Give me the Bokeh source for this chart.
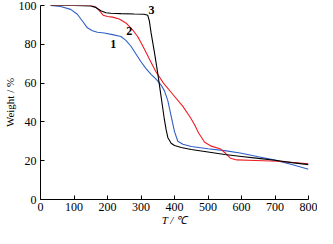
from bokeh.plotting import figure
from bokeh.models import Range1d
from bokeh.core.properties import value
from bokeh.embed import file_html
from bokeh.resources import INLINE

# Curve 1 (blue)
t1 = [30, 60, 90, 110, 125, 140, 155, 170, 190, 215, 240, 255, 270, 285, 300, 315, 330, 345, 360, 370, 380, 390, 400, 410, 425, 450, 500, 550, 600, 650, 700, 750, 800]
w1 = [100, 99.5, 98, 95.5, 92, 88.5, 87, 86.2, 85.8, 85, 84, 82, 79, 75, 71, 67.5, 64.5, 62, 59, 56, 51, 43, 35, 30, 28.5, 27.3, 26.2, 25.2, 23.8, 22, 20.3, 18, 15.6]
# Curve 2 (red)
t2 = [30, 100, 150, 165, 175, 187, 200, 215, 235, 255, 277, 290, 301, 313, 325, 344, 367, 396, 425, 447, 460, 472, 490, 510, 538, 553, 567, 586, 643, 709, 800]
w2 = [100, 100, 100, 99.2, 97.5, 95, 94.3, 94, 93, 91, 87, 84, 80.5, 76.5, 72.4, 66, 60, 54, 48, 42.4, 38.5, 34.3, 29.5, 27.5, 26, 23.7, 21.3, 20.4, 20.1, 19.7, 18.4]
# Curve 3 (black)
t3 = [30, 100, 150, 165, 180, 195, 210, 240, 280, 310, 320, 325, 330, 340, 350, 360, 370, 375, 380, 390, 400, 420, 450, 500, 550, 600, 650, 700, 750, 800]
w3 = [100, 100, 99.8, 99, 97.3, 96.3, 96, 95.8, 95.6, 95.5, 95, 92, 86, 76, 65, 53, 41, 36, 32, 29, 27.8, 26.8, 25.8, 24.5, 23.2, 22.2, 21.2, 20.2, 19, 18]

curve_labels = ["1", "2", "3"]
label_t = [217, 265, 331]
label_w = [80, 87, 97.9]

x_ticks = [0, 100, 200, 300, 400, 500, 600, 700, 800]
y_ticks = [0, 20, 40, 60, 80, 100]

SERIF = "Liberation Serif"

p = figure(width=317, height=228, output_backend="svg", toolbar_location=None,
           x_range=Range1d(0, 800), y_range=Range1d(0, 100),
           min_border_left=33, min_border_right=9, min_border_top=5, min_border_bottom=24)
p.outline_line_color = None
p.grid.visible = False
p.background_fill_color = "white"
p.border_fill_color = "white"

p.line(t1, w1, line_color="#2f5fc6", line_width=1.1)
p.line(t2, w2, line_color="#ee1c25", line_width=1.1)
p.line(t3, w3, line_color="black", line_width=1.1)

p.text(x=label_t, y=label_w, text=curve_labels, text_font=value(SERIF),
       text_font_style="bold", text_font_size="12px", text_align="center",
       text_baseline="middle", text_color="black")

for ax in (p.xaxis[0], p.yaxis[0]):
    ax.axis_line_color = "black"
    ax.major_tick_in = 4
    ax.major_tick_out = 0
    ax.minor_tick_in = 2
    ax.minor_tick_out = 0
    ax.major_label_text_font = SERIF
    ax.major_label_text_font_size = "12px"
    ax.major_label_text_color = "black"
    ax.major_tick_line_color = "black"
    ax.minor_tick_line_color = "black"
    ax.axis_label_text_font = SERIF
    ax.axis_label_text_font_size = "11px"
    ax.axis_label_text_color = "black"
    ax.axis_label_standoff = 0

p.xaxis.ticker = x_ticks
p.yaxis.ticker = y_ticks
p.xaxis[0].ticker.num_minor_ticks = 2
p.yaxis[0].ticker.num_minor_ticks = 2
p.xaxis.major_label_standoff = 3
p.yaxis.major_label_standoff = 4

p.xaxis.axis_label = "T / \u2103"
p.xaxis.axis_label_text_font_style = "italic"
p.yaxis.axis_label = "Weight / %"
p.yaxis.axis_label_text_font_style = "normal"

open("out.html", "w").write(file_html(p, INLINE))
